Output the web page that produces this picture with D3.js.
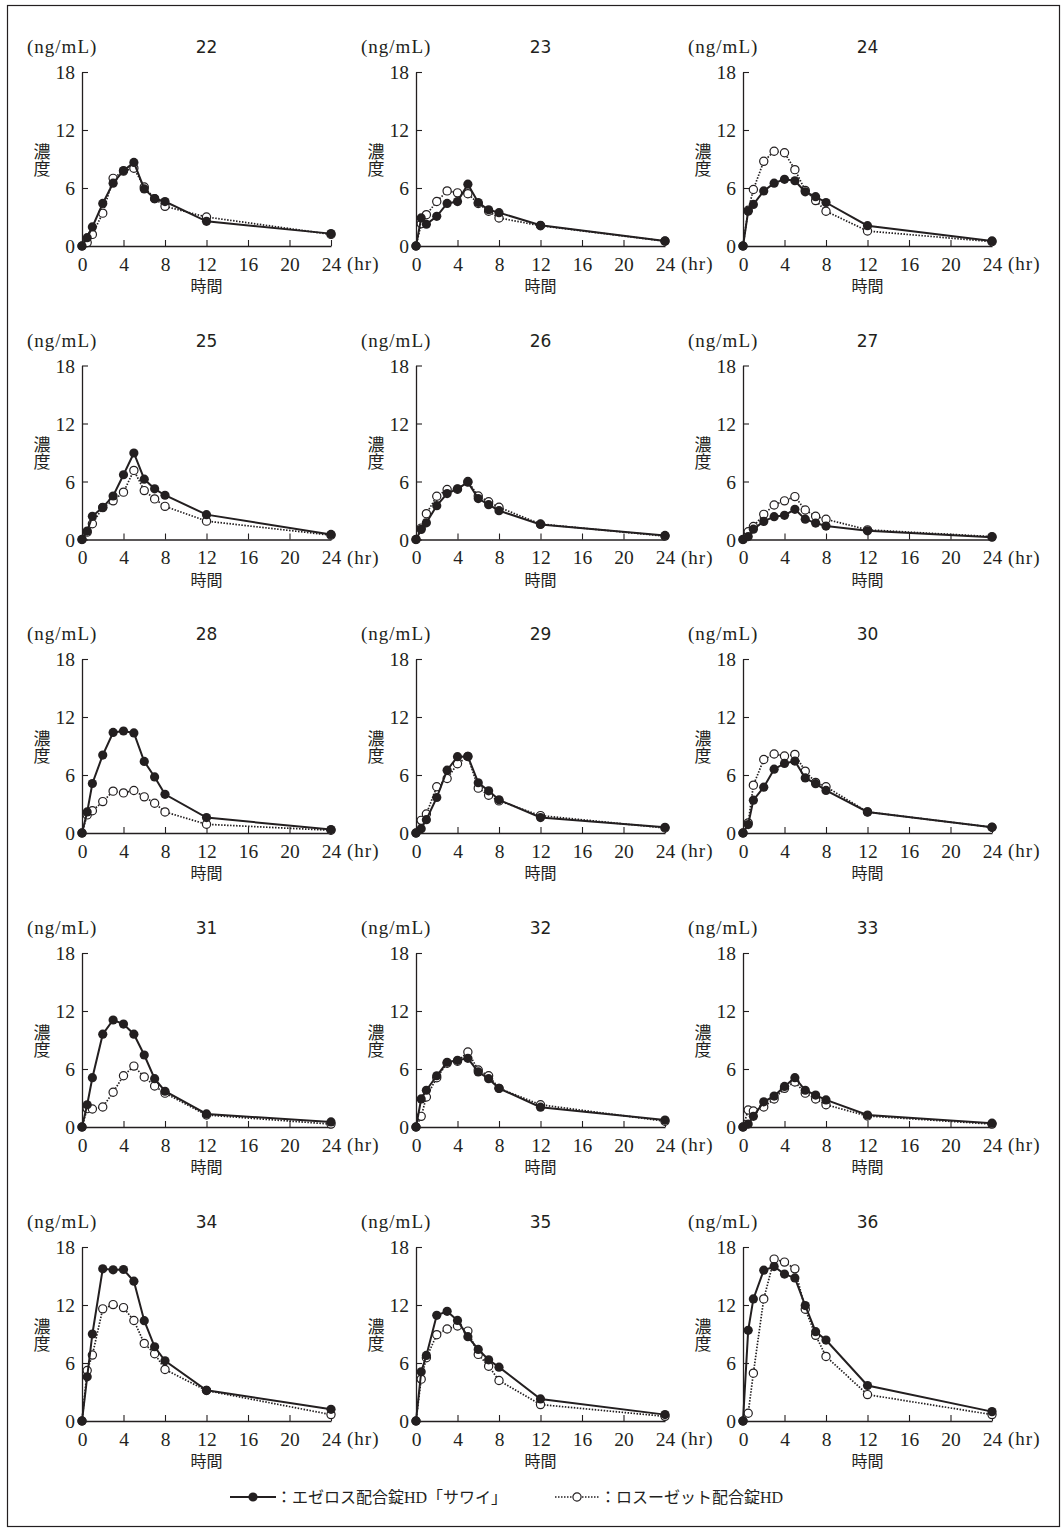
<!DOCTYPE html>
<html>
<head>
<meta charset="utf-8">
<script src="https://cdn.jsdelivr.net/npm/d3@7"></script>
<style>
  html, body { margin: 0; padding: 0; background: #fff; }
  svg { display: block; }
  .tick text { font-family: "Liberation Serif", "Noto Sans CJK JP", serif; }
</style>
</head>
<body>
<svg id="chart" width="1064" height="1540"></svg>
<script>
// Sampling times (hr)
const times = [0, 0.5, 1, 2, 3, 4, 5, 6, 7, 8, 12, 24];
// Subject numbers, one panel each
const subjects = ["22","23","24","25","26","27","28","29","30","31","32","33","34","35","36"];
// Axis ticks
const xTicks = [0, 4, 8, 12, 16, 20, 24];
const yTicks = [0, 6, 12, 18];

// Plasma concentration (ng/mL), エゼロス配合錠HD「サワイ」 (filled circles)
const sawai = [
  [0, 0.86, 1.97, 4.4, 6.5, 7.8, 8.65, 5.9, 4.9, 4.6, 2.55, 1.28],
  [0, 2.9, 2.25, 3.07, 4.4, 4.6, 6.4, 4.5, 3.75, 3.45, 2.14, 0.52],
  [0, 3.6, 4.3, 5.7, 6.5, 6.9, 6.75, 5.6, 5.1, 4.5, 2.1, 0.52],
  [0, 0.87, 2.4, 3.33, 4.5, 6.7, 8.95, 6.24, 5.24, 4.58, 2.57, 0.52],
  [0, 1.04, 1.73, 3.5, 4.75, 5.24, 5.93, 4.23, 3.6, 2.98, 1.56, 0.42],
  [0, 0.3, 1.07, 1.87, 2.36, 2.5, 3.12, 2.1, 1.7, 1.39, 0.9, 0.24],
  [0, 2.18, 5.12, 8.06, 10.4, 10.55, 10.35, 7.4, 5.8, 4.0, 1.6, 0.35],
  [0, 0.45, 1.38, 3.67, 6.5, 7.9, 7.92, 5.2, 4.36, 3.43, 1.6, 0.59],
  [0, 0.87, 3.4, 4.74, 6.6, 7.2, 7.44, 5.7, 5.1, 4.4, 2.18, 0.59],
  [0, 2.3, 5.1, 9.6, 11.07, 10.65, 9.6, 7.45, 5.0, 3.7, 1.35, 0.52],
  [0, 2.9, 3.8, 5.3, 6.7, 6.9, 7.1, 5.7, 5.0, 4.0, 2.05, 0.72],
  [0, 0.3, 1.1, 2.6, 3.2, 4.2, 5.1, 3.8, 3.3, 2.8, 1.24, 0.4],
  [0, 4.57, 9.0, 15.74, 15.64, 15.67, 14.46, 10.38, 7.68, 6.23, 3.18, 1.21],
  [0, 5.09, 6.78, 10.93, 11.35, 10.4, 8.72, 7.4, 6.33, 5.57, 2.28, 0.66],
  [0, 9.38, 12.63, 15.6, 15.98, 15.2, 14.8, 11.94, 9.24, 8.37, 3.67, 0.97]
];

// Plasma concentration (ng/mL), ロスーゼット配合錠HD (open circles)
const rosuzet = [
  [0, 0.35, 1.2, 3.4, 7.0, 7.75, 8.05, 6.1, 4.9, 4.1, 3.0, 1.2],
  [0, 2.3, 3.24, 4.6, 5.7, 5.5, 5.4, 4.4, 3.6, 2.9, 2.1, 0.5],
  [0, 3.7, 5.85, 8.76, 9.8, 9.65, 7.9, 5.75, 4.7, 3.6, 1.55, 0.45],
  [0, 0.76, 1.63, 3.3, 4.0, 4.9, 7.15, 5.06, 4.2, 3.43, 1.9, 0.45],
  [0, 1.18, 2.67, 4.47, 5.17, 5.2, 6.0, 4.5, 3.9, 3.33, 1.6, 0.35],
  [0, 0.8, 1.35, 2.6, 3.57, 4.0, 4.44, 3.05, 2.4, 2.1, 1.0, 0.3],
  [0, 1.87, 2.3, 3.25, 4.33, 4.15, 4.4, 3.74, 3.08, 2.18, 0.9, 0.28],
  [0, 1.31, 1.97, 4.78, 5.64, 7.16, 7.92, 4.64, 3.9, 3.32, 1.8, 0.52],
  [0, 1.04, 4.95, 7.6, 8.17, 7.96, 8.13, 6.4, 5.23, 4.78, 2.18, 0.59],
  [0, 1.9, 1.86, 2.07, 3.6, 5.3, 6.3, 5.17, 4.24, 3.5, 1.24, 0.3],
  [0, 1.1, 3.1, 5.1, 6.6, 6.8, 7.76, 5.9, 5.3, 4.0, 2.3, 0.6],
  [0, 1.76, 1.65, 2.07, 2.9, 4.0, 4.65, 3.5, 2.9, 2.3, 1.14, 0.3],
  [0, 5.22, 6.82, 11.6, 12.04, 11.73, 10.4, 8.03, 6.96, 5.33, 3.15, 0.66],
  [0, 4.33, 6.54, 8.93, 9.52, 9.83, 9.3, 6.89, 5.67, 4.19, 1.7, 0.48],
  [0, 0.8, 4.95, 12.63, 16.75, 16.44, 15.74, 11.56, 8.86, 6.68, 2.73, 0.66]
];

const legendLabels = ["：エゼロス配合錠HD「サワイ」", "：ロスーゼット配合錠HD"];

const SERIF = '"Liberation Serif", "Noto Sans CJK JP", serif';
const CJK = '"Noto Sans CJK JP", sans-serif';
const INK = "#231f20";

const svg = d3.select("#chart");

// Outer frame
svg.append("rect")
  .attr("x", 7.5).attr("y", 5.5)
  .attr("width", 1052).attr("height", 1521)
  .attr("fill", "none").attr("stroke", INK).attr("stroke-width", 1.2);

// Panel grid geometry
const colLeft = [82, 416, 743];
const rowBase = [246, 539.5, 833, 1127, 1421];
const plotW = 249, plotH = 174;

const x = d3.scaleLinear().domain([0, 24]).range([0, plotW]);
const y = d3.scaleLinear().domain([0, 18]).range([plotH, 0]);

const solidLine = d3.line().x(d => x(d[0])).y(d => y(d[1]));

subjects.forEach((id, i) => {
  const col = i % 3, row = Math.floor(i / 3);
  const g = svg.append("g")
    .attr("transform", `translate(${colLeft[col]},${rowBase[row] - plotH})`);

  // Axes with inward ticks
  const yAxis = d3.axisLeft(y).tickValues(yTicks).tickFormat(d3.format("d"))
    .tickSizeInner(-6).tickSizeOuter(0).tickPadding(7);
  const xAxis = d3.axisBottom(x).tickValues(xTicks).tickFormat(d3.format("d"))
    .tickSizeInner(-6).tickSizeOuter(0).tickPadding(11);

  const ya = g.append("g").call(yAxis);
  const xa = g.append("g").attr("transform", `translate(0,${plotH})`).call(xAxis);
  [ya, xa].forEach(a => {
    a.select(".domain").attr("stroke", INK).attr("stroke-width", 1.3);
    a.selectAll(".tick line").attr("stroke", INK).attr("stroke-width", 1.1);
    a.selectAll(".tick text").attr("fill", INK).style("font-size", "19.5px");
  });
  ya.selectAll(".tick text").attr("dy", "0.34em");

  // Unit label, subject title
  g.append("text").attr("x", -55).attr("y", -19)
    .attr("font-family", SERIF).attr("font-size", 19).attr("letter-spacing", 1)
    .attr("fill", INK).text("(ng/mL)");
  g.append("text").attr("x", plotW / 2).attr("y", -19)
    .attr("text-anchor", "middle")
    .attr("font-family", '"DejaVu Sans", sans-serif').attr("font-size", 17)
    .attr("fill", INK).text(id);

  // Y axis title, set vertically
  g.append("text")
    .attr("x", -40).attr("y", plotH / 2 + 1)
    .attr("writing-mode", "vertical-rl")
    .attr("text-anchor", "middle")
    .attr("font-family", CJK).attr("font-size", 17)
    .attr("fill", INK).text("濃度");

  // X axis unit and title
  g.append("text").attr("x", x(24) + 16).attr("y", plotH + 24)
    .attr("font-family", SERIF).attr("font-size", 19).attr("letter-spacing", 1)
    .attr("fill", INK).text("(hr)");
  g.append("text").attr("x", plotW / 2).attr("y", plotH + 46)
    .attr("text-anchor", "middle").attr("font-family", CJK).attr("font-size", 16)
    .attr("fill", INK).text("時間");

  const ptsA = times.map((t, k) => [t, sawai[i][k]]);
  const ptsB = times.map((t, k) => [t, rosuzet[i][k]]);

  // Reference product: dotted line with open circles
  g.append("path").attr("d", solidLine(ptsB))
    .attr("fill", "none").attr("stroke", INK).attr("stroke-width", 1.7)
    .attr("stroke-dasharray", "1.5 1.5");
  g.selectAll(".ob").data(ptsB).join("circle")
    .attr("cx", d => x(d[0])).attr("cy", d => y(d[1])).attr("r", 4.1)
    .attr("fill", "#fff").attr("stroke", INK).attr("stroke-width", 1.2);

  // Test product: solid line with filled circles
  g.append("path").attr("d", solidLine(ptsA))
    .attr("fill", "none").attr("stroke", INK).attr("stroke-width", 2);
  g.selectAll(".fa").data(ptsA).join("circle")
    .attr("cx", d => x(d[0])).attr("cy", d => y(d[1])).attr("r", 4.6)
    .attr("fill", INK);
});

// Legend
const lg = svg.append("g").attr("transform", "translate(0,1497)");
lg.append("line").attr("x1", 230).attr("x2", 276).attr("y1", 0).attr("y2", 0)
  .attr("stroke", INK).attr("stroke-width", 2);
lg.append("circle").attr("cx", 253).attr("cy", 0).attr("r", 4.6).attr("fill", INK);
lg.append("text").attr("x", 276).attr("y", 5.5)
  .attr("font-family", SERIF).attr("font-size", 16).attr("fill", INK)
  .text(legendLabels[0]);

lg.append("line").attr("x1", 555).attr("x2", 600).attr("y1", 0).attr("y2", 0)
  .attr("stroke", INK).attr("stroke-width", 1.7).attr("stroke-dasharray", "1.5 1.5");
lg.append("circle").attr("cx", 577).attr("cy", 0).attr("r", 4.1)
  .attr("fill", "#fff").attr("stroke", INK).attr("stroke-width", 1.2);
lg.append("text").attr("x", 600).attr("y", 5.5)
  .attr("font-family", SERIF).attr("font-size", 16).attr("fill", INK)
  .text(legendLabels[1]);
</script>
</body>
</html>
